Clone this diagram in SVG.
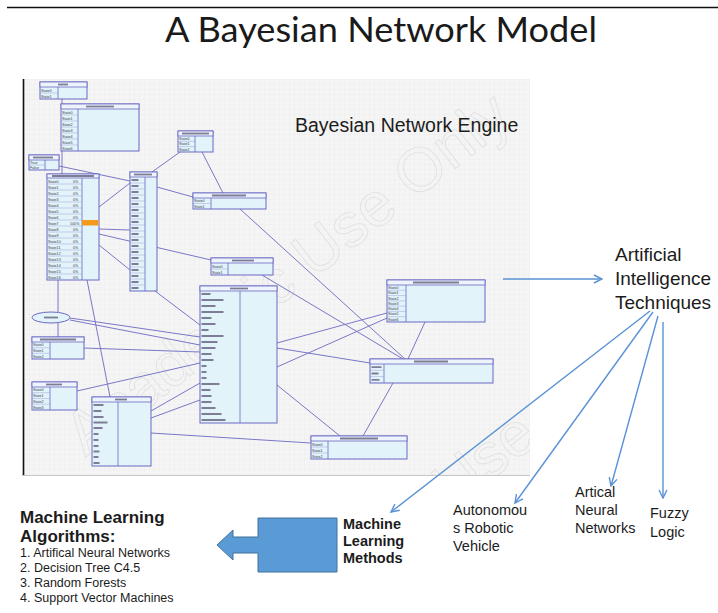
<svg xmlns="http://www.w3.org/2000/svg" width="718" height="613" viewBox="0 0 718 613">
  <defs>
    <style>
      .box{fill:#e2f4f9;stroke:#6a68c4;stroke-width:1}
      .hdr{fill:#edf4fb;stroke:#6a68c4;stroke-width:0.8}
      .cell{fill:none;stroke:#6a68c4;stroke-width:0.8}
      .sep{fill:none;stroke:#8d8bd2;stroke-width:0.4}
      .bar{fill:none;stroke:#7d7d96;stroke-width:1.8}
      .lb{font-family:"Liberation Sans",Arial,sans-serif;font-size:3.7px;fill:#3a3a50}
      .edge{fill:none;stroke:#7a77c8;stroke-width:1}
      .ai{fill:none;stroke:#5a92d6;stroke-width:1.4}
      .cap{font-family:"Liberation Sans",Arial,sans-serif;fill:#1c1c1c}
      .wm{font-family:"Liberation Sans",Arial,sans-serif;font-size:62px;fill:none;stroke:#e0e0e0;stroke-width:0.8}
    </style>
    <pattern id="grid" width="5" height="5" patternUnits="userSpaceOnUse">
      <rect width="5" height="5" fill="#f5f5f5"/>
      <path d="M5,0V5M0,5H5" stroke="#e4e4e4" stroke-width="0.5"/>
    </pattern>
    <clipPath id="shot">
      <rect x="23" y="79" width="507" height="396"/>
    </clipPath>
    <marker id="open" viewBox="0 0 10 10" refX="9" refY="5" markerWidth="10" markerHeight="10" markerUnits="userSpaceOnUse" orient="auto">
      <path d="M1,1 L9,5 L1,9" fill="none" stroke="#5a92d6" stroke-width="1.4"/>
    </marker>
  </defs>

  <rect width="718" height="613" fill="#ffffff"/>
  <path d="M7,7.5H718" stroke="#111" stroke-width="1.4"/>

  <text x="165" y="42" font-family="Lato,'Open Sans',sans-serif" font-size="35" fill="#1a1a1a" textLength="432" lengthAdjust="spacingAndGlyphs">A Bayesian Network Model</text>

  <!-- network engine screen -->
  <g id="engine-panel">
    <rect x="23" y="79" width="507" height="396" fill="url(#grid)"/>
    <path d="M23.5,79V476" stroke="#111" stroke-width="1.6"/>
    <path d="M23,475.5H530" stroke="#c8c8c8" stroke-width="1"/>
    <g clip-path="url(#shot)">
      <text class="wm" transform="translate(300,290) rotate(-38)" text-anchor="middle">Academic Use Only</text>
      <text class="wm" transform="translate(440,520) rotate(-38)" text-anchor="middle">Academic Use Only</text>
    </g>
    <text x="295" y="132" class="cap" font-size="19.5">Bayesian Network Engine</text>
  </g>

  <!-- links between the engine tables -->
  <g id="connectors">
    <path class="edge" d="M62,99V104"/>
    <path class="edge" d="M62,151V174"/>
    <path class="edge" d="M59,166L130,181"/>
    <path class="edge" d="M180,152L152,172"/>
    <path class="edge" d="M202,152L223,193"/>
    <path class="edge" d="M157,187L193,197"/>
    <path class="edge" d="M130,183L99,207"/>
    <path class="edge" d="M99,229L130,230"/>
    <path class="edge" d="M99,234L211,260"/>
    <path class="edge" d="M99,245L130,270"/>
    <path class="edge" d="M240,209L405,359"/>
    <path class="edge" d="M262,275L403,359"/>
    <path class="edge" d="M425,322L408,359"/>
    <path class="edge" d="M155,291L200,325"/>
    <path class="edge" d="M277,343L387,313"/>
    <path class="edge" d="M277,367L387,318"/>
    <path class="edge" d="M277,348L370,363"/>
    <path class="edge" d="M277,385L340,436"/>
    <path class="edge" d="M393,383L363,436"/>
    <path class="edge" d="M58,280V312"/>
    <path class="edge" d="M58,323V337"/>
    <path class="edge" d="M87,280L110,397"/>
    <path class="edge" d="M70,318L200,337"/>
    <path class="edge" d="M70,320L200,345"/>
    <path class="edge" d="M84,348L200,352"/>
    <path class="edge" d="M77,391L200,363"/>
    <path class="edge" d="M151,411L200,383"/>
    <path class="edge" d="M151,418L200,400"/>
    <path class="edge" d="M151,433L311,443"/>
  </g>

  <g id="t1">
    <rect class="box" x="40" y="82" width="47" height="17"/>
    <rect class="hdr" x="40" y="82" width="47" height="5"/>
    <path class="bar" d="M58,84.5h10"/>
    <path class="cell" d="M58,87V99"/>
    <path class="sep" d="M40,93H58"/>
    <text class="lb" x="41" y="91.5">State0</text>
    <text class="lb" x="41" y="97.5">State1</text>
  </g>

  <g id="t2">
    <rect class="box" x="61" y="104" width="78" height="47"/>
    <rect class="hdr" x="61" y="104" width="78" height="5"/>
    <path class="bar" d="M86,106.5h28"/>
    <path class="cell" d="M78,109V151"/>
    <path class="sep" d="M61,115H78M61,121H78M61,127H78M61,133H78M61,139H78M61,145H78"/>
    <text class="lb" x="62" y="113.5">State0</text>
    <text class="lb" x="62" y="119.5">State1</text>
    <text class="lb" x="62" y="125.5">State2</text>
    <text class="lb" x="62" y="131.5">State3</text>
    <text class="lb" x="62" y="137.5">State4</text>
    <text class="lb" x="62" y="143.5">State5</text>
    <text class="lb" x="62" y="149.5">State6</text>
  </g>

  <g id="t3">
    <rect class="box" x="29" y="155" width="30" height="15"/>
    <rect class="hdr" x="29" y="155" width="30" height="5"/>
    <path class="bar" d="M33,157.5h20"/>
    <path class="cell" d="M45,160V170"/>
    <path class="sep" d="M29,165H45"/>
    <text class="lb" x="30" y="164">True</text>
    <text class="lb" x="30" y="169">False</text>
  </g>

  <g id="t4">
    <rect class="box" x="47" y="174" width="52" height="106"/>
    <rect class="hdr" x="47" y="174" width="52" height="4"/>
    <path class="bar" d="M52,176h42"/>
    <path class="cell" d="M82,178V280"/>
    <rect x="82" y="220" width="16.5" height="5.5" fill="#f39a1c"/>
    <path class="sep" d="M47,184H82M47,190H82M47,196H82M47,202H82M47,208H82M47,214H82M47,220H82M47,226H82M47,232H82M47,238H82M47,244H82M47,250H82M47,256H82M47,262H82M47,268H82M47,274H82"/>
    <text class="lb" x="48" y="182.5">State0</text><text class="lb" x="73" y="182.5">0%</text>
    <text class="lb" x="48" y="188.5">State1</text><text class="lb" x="73" y="188.5">0%</text>
    <text class="lb" x="48" y="194.5">State2</text><text class="lb" x="73" y="194.5">0%</text>
    <text class="lb" x="48" y="200.5">State3</text><text class="lb" x="73" y="200.5">0%</text>
    <text class="lb" x="48" y="206.5">State4</text><text class="lb" x="73" y="206.5">0%</text>
    <text class="lb" x="48" y="212.5">State5</text><text class="lb" x="73" y="212.5">0%</text>
    <text class="lb" x="48" y="218.5">State6</text><text class="lb" x="73" y="218.5">0%</text>
    <text class="lb" x="48" y="224.5">State7</text><text class="lb" x="70" y="224.5">100%</text>
    <text class="lb" x="48" y="230.5">State8</text><text class="lb" x="73" y="230.5">0%</text>
    <text class="lb" x="48" y="236.5">State9</text><text class="lb" x="73" y="236.5">0%</text>
    <text class="lb" x="48" y="242.5">State10</text><text class="lb" x="73" y="242.5">0%</text>
    <text class="lb" x="48" y="248.5">State11</text><text class="lb" x="73" y="248.5">0%</text>
    <text class="lb" x="48" y="254.5">State12</text><text class="lb" x="73" y="254.5">0%</text>
    <text class="lb" x="48" y="260.5">State13</text><text class="lb" x="73" y="260.5">0%</text>
    <text class="lb" x="48" y="266.5">State14</text><text class="lb" x="73" y="266.5">0%</text>
    <text class="lb" x="48" y="272.5">State15</text><text class="lb" x="73" y="272.5">0%</text>
    <text class="lb" x="48" y="278.5">State16</text><text class="lb" x="73" y="278.5">0%</text>
  </g>

  <g id="t5">
    <rect class="box" x="130" y="172" width="27" height="119"/>
    <rect class="hdr" x="130" y="172" width="27" height="5"/>
    <path class="bar" d="M134,174.5h18"/>
    <path class="cell" d="M145,177V291"/>
    <path class="sep" d="M130,183H145M130,189H145M130,195H145M130,201H145M130,207H145M130,213H145M130,219H145M130,225H145M130,231H145M130,237H145M130,243H145M130,249H145M130,255H145M130,261H145M130,267H145M130,273H145M130,279H145M130,285H145"/>
    <path class="bar" stroke-width="1.4" d="M131.5,180h7M131.5,186h7M131.5,192h7M131.5,198h7M131.5,204h7M131.5,210h7M131.5,216h7M131.5,222h7M131.5,228h7M131.5,234h7M131.5,240h7M131.5,246h7M131.5,252h7M131.5,258h7M131.5,264h7M131.5,270h7M131.5,276h7M131.5,282h7M131.5,288h7"/>
  </g>

  <g id="t6">
    <rect class="box" x="178" y="131" width="35" height="21"/>
    <rect class="hdr" x="178" y="131" width="35" height="5"/>
    <path class="bar" d="M182,133.5h27"/>
    <path class="cell" d="M195,136V152"/>
    <path class="sep" d="M178,141.3H195M178,146.6H195"/>
    <text class="lb" x="179" y="140">State0</text>
    <text class="lb" x="179" y="145.3">State1</text>
    <text class="lb" x="179" y="150.6">State2</text>
  </g>

  <g id="t7">
    <rect class="box" x="193" y="193" width="73" height="16"/>
    <rect class="hdr" x="193" y="193" width="73" height="5"/>
    <path class="bar" d="M212,195.5h34"/>
    <path class="cell" d="M211,198V209"/>
    <path class="sep" d="M193,203.5H211"/>
    <text class="lb" x="194" y="202.3">State0</text>
    <text class="lb" x="194" y="207.8">State1</text>
  </g>

  <g id="t8">
    <rect class="box" x="211" y="258" width="62" height="17"/>
    <rect class="hdr" x="211" y="258" width="62" height="5"/>
    <path class="bar" d="M232,260.5h22"/>
    <path class="cell" d="M228,263V275"/>
    <path class="sep" d="M211,269H228"/>
    <text class="lb" x="212" y="267.5">State0</text>
    <text class="lb" x="212" y="273.5">State1</text>
  </g>

  <g id="t9">
    <rect class="box" x="200" y="286" width="77" height="137"/>
    <rect class="hdr" x="200" y="286" width="77" height="5"/>
    <path class="bar" d="M230,288.5h18"/>
    <path class="cell" d="M240,291V423"/>
    <path class="bar" stroke-width="1.4" d="M201.5,294h9M201.5,300h22M201.5,306h14M201.5,312h22M201.5,318h10M201.5,324h14M201.5,330h7M201.5,336h22M201.5,342h16M201.5,348h14M201.5,354h10M201.5,360h12M201.5,366h5M201.5,372h5M201.5,378h5M201.5,384h18M201.5,390h9M201.5,396h10M201.5,402h10M201.5,408h14M201.5,414h20M201.5,420h24"/>
  </g>

  <g id="t10">
    <ellipse cx="51" cy="317.5" rx="19" ry="5.5" fill="#e2f4f9" stroke="#6a68c4" stroke-width="1"/>
    <path class="bar" stroke-width="1.4" d="M44,317.5h14"/>
  </g>

  <g id="t11">
    <rect class="box" x="32" y="337" width="52" height="22"/>
    <rect class="hdr" x="32" y="337" width="52" height="5"/>
    <path class="bar" d="M40,339.5h36"/>
    <path class="cell" d="M50,342V359"/>
    <path class="sep" d="M32,347.7H50M32,353.3H50"/>
    <text class="lb" x="33" y="346.3">State0</text>
    <text class="lb" x="33" y="352">State1</text>
    <text class="lb" x="33" y="357.7">State2</text>
  </g>

  <g id="t12">
    <rect class="box" x="32" y="382" width="45" height="28"/>
    <rect class="hdr" x="32" y="382" width="45" height="5"/>
    <path class="bar" d="M46,384.5h16"/>
    <path class="cell" d="M50,387V410"/>
    <path class="sep" d="M32,392.7H50M32,398.5H50M32,404.2H50"/>
    <text class="lb" x="33" y="391.3">State0</text>
    <text class="lb" x="33" y="397">State1</text>
    <text class="lb" x="33" y="402.8">State2</text>
    <text class="lb" x="33" y="408.5">State3</text>
  </g>

  <g id="t13">
    <rect class="box" x="92" y="397" width="59" height="69"/>
    <rect class="hdr" x="92" y="397" width="59" height="5"/>
    <path class="bar" d="M115,399.5h12"/>
    <path class="cell" d="M118,402V466"/>
    <path class="bar" stroke-width="1.4" d="M93.5,405h10M93.5,411h8M93.5,417h10M93.5,422.5h14M93.5,428h9M93.5,434h5M93.5,440h5M93.5,446h5M93.5,451.5h6M93.5,457h5M93.5,463h6"/>
  </g>

  <g id="t14">
    <rect class="box" x="387" y="280" width="98" height="42"/>
    <rect class="hdr" x="387" y="280" width="98" height="5"/>
    <path class="bar" d="M413,282.5h46"/>
    <path class="cell" d="M406,285V322"/>
    <path class="sep" d="M387,290.3H406M387,295.6H406M387,300.9H406M387,306.1H406M387,311.4H406M387,316.7H406"/>
    <text class="lb" x="388" y="289">State0</text>
    <text class="lb" x="388" y="294.3">State1</text>
    <text class="lb" x="388" y="299.6">State2</text>
    <text class="lb" x="388" y="304.9">State3</text>
    <text class="lb" x="388" y="310.1">State4</text>
    <text class="lb" x="388" y="315.4">State5</text>
    <text class="lb" x="388" y="320.7">State6</text>
  </g>

  <g id="t15">
    <rect class="box" x="370" y="359" width="123" height="24"/>
    <rect class="hdr" x="370" y="359" width="123" height="5"/>
    <path class="bar" d="M414,361.5h34"/>
    <path class="cell" d="M384,364V383"/>
    <path class="sep" d="M370,370.3H384M370,376.6H384"/>
    <path class="bar" stroke-width="1.4" d="M371.5,367.2h10M371.5,373.5h7M371.5,379.8h8"/>
  </g>

  <g id="t16">
    <rect class="box" x="311" y="436" width="96" height="23"/>
    <rect class="hdr" x="311" y="436" width="96" height="5"/>
    <path class="bar" d="M340,438.5h38"/>
    <path class="cell" d="M328,441V459"/>
    <path class="sep" d="M311,447H328M311,453H328"/>
    <text class="lb" x="312" y="445.5">State0</text>
    <text class="lb" x="312" y="451.5">State1</text>
    <text class="lb" x="312" y="457.5">State2</text>
  </g>

  <!-- AI techniques and their branches -->
  <g id="ai-links">
    <path class="ai" d="M503,279H602" marker-end="url(#open)"/>
    <path class="ai" d="M650,311L391,512" marker-end="url(#open)"/>
    <path class="ai" d="M653,312L515,503" marker-end="url(#open)"/>
    <path class="ai" d="M658,316L611,486" marker-end="url(#open)"/>
    <path class="ai" d="M663,322V498" marker-end="url(#open)"/>
  </g>

  <g id="ai-techniques" class="cap" font-size="19">
    <text x="615" y="261">Artificial</text>
    <text x="615" y="285">Intelligence</text>
    <text x="615" y="309">Techniques</text>
  </g>

  <g id="robotic-vehicle" class="cap" font-size="14.5">
    <text x="453" y="515">Autonomou</text>
    <text x="453" y="533">s Robotic</text>
    <text x="453" y="551">Vehicle</text>
  </g>

  <g id="neural-networks" class="cap" font-size="14.5">
    <text x="575" y="497">Artical</text>
    <text x="575" y="515">Neural</text>
    <text x="575" y="533">Networks</text>
  </g>

  <g id="fuzzy-logic" class="cap" font-size="14.5">
    <text x="650" y="518">Fuzzy</text>
    <text x="650" y="537">Logic</text>
  </g>

  <g id="ml-methods">
    <path d="M217,545L233,530V537H258V518H337V572H258V553H233V560Z" fill="#5b9bd5" stroke="#41719c" stroke-width="1"/>
    <g class="cap" font-size="14.5" font-weight="bold">
      <text x="343" y="529">Machine</text>
      <text x="343" y="546">Learning</text>
      <text x="343" y="563">Methods</text>
    </g>
  </g>

  <g id="ml-algorithms" class="cap">
    <text x="20" y="523" font-size="17" font-weight="bold">Machine Learning</text>
    <text x="20" y="542" font-size="17" font-weight="bold">Algorithms:</text>
    <text x="20" y="557" font-size="12.5">1. Artifical Neural Networks</text>
    <text x="20" y="572" font-size="12.5">2. Decision Tree C4.5</text>
    <text x="20" y="587" font-size="12.5">3. Random Forests</text>
    <text x="20" y="602" font-size="12.5">4. Support Vector Machines</text>
  </g>
</svg>
